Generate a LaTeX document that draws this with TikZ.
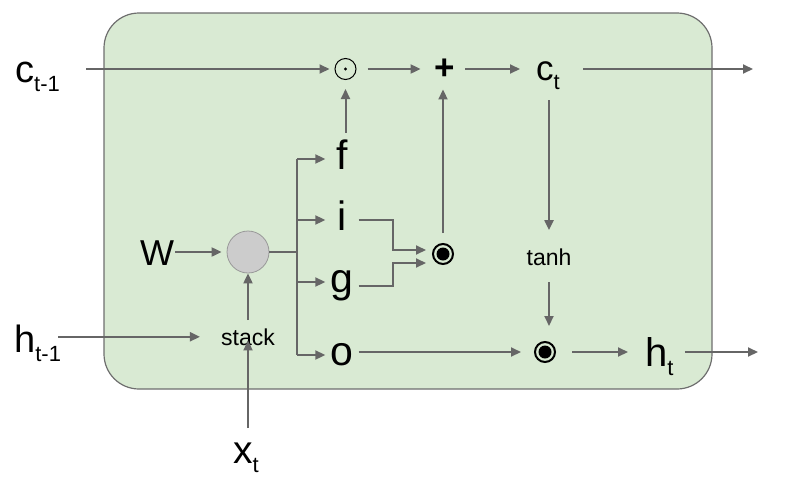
\documentclass[tikz,border=0pt]{standalone}
\usepackage{fontspec}
\setmainfont{Liberation Sans}
\usetikzlibrary{arrows.meta}

\definecolor{cellgreen}{HTML}{D9EAD3}
\definecolor{cellborder}{HTML}{6E6E6E}
\definecolor{wiregray}{HTML}{666666}
\definecolor{mixfill}{HTML}{CCCCCC}
\definecolor{mixborder}{HTML}{999999}

% letter with lowered subscript
\newcommand{\lowsub}[2]{#1\raisebox{-9pt}{\fontsize{22}{22}\selectfont #2}}

\begin{document}
\begin{tikzpicture}[x=1pt,y=-1pt,
	sym/.style={inner sep=0pt,anchor=base west},
	gate/.style={inner sep=0pt,minimum width=33pt,text height=30pt,text depth=10pt,font=\fontsize{41}{41}\selectfont},
	small/.style={inner sep=0pt,anchor=base,font=\fontsize{23}{23}\selectfont},
	wire/.style={draw=wiregray,line width=2pt},
	arr/.style={wire,-{Triangle[length=10pt,width=9pt]}},
	dotmul/.style={circle,draw,line width=1pt,inner sep=0pt,minimum size=21pt},
	hadamard/.style={circle,draw,line width=2pt,inner sep=0pt,minimum size=20pt}]
		\useasboundingbox (0,0) rectangle (800,485);
		\draw[cellborder,fill=cellgreen,line width=1.2pt,rounded corners=35pt] (104,13) rectangle (712,389);
		%%%
		\node[sym,font=\fontsize{38}{38}\selectfont] (ctm1) at (15,82) {\lowsub{c}{t-1}};
		\node[sym,font=\fontsize{35}{35}\selectfont] (ct) at (536,80) {\lowsub{c}{t}};
		\node[sym,font=\fontsize{38}{38}\selectfont] (htm1) at (14,352) {\lowsub{h}{t-1}};
		\node[sym,font=\fontsize{40}{40}\selectfont] (ht) at (645,366) {\lowsub{h}{t}};
		\node[sym,font=\fontsize{39}{39}\selectfont] (xt) at (233,463) {\lowsub{x}{t}};
		\node[sym,font=\fontsize{36}{36}\selectfont] (W) at (140,265) {W};
		%%%
		\node[dotmul] (fmul) at (345.5,69) {};
		\fill (fmul) circle (1.6pt);
		\node[inner sep=0pt,font=\fontsize{35}{35}\selectfont\bfseries] (sum) at (445,69) {+};
		\node[hadamard] (imul) at (443,254) {};
		\fill (imul) circle (6.5pt);
		\node[hadamard] (omul) at (545,352) {};
		\fill (omul) circle (6.5pt);
		\node[circle,draw=mixborder,fill=mixfill,line width=0.8pt,inner sep=0pt,minimum size=42pt] (mix) at (248,252) {};
		%%%
		\node[gate] (f) at (342,159) {f};
		\node[gate] (i) at (342,220) {i};
		\node[gate] (g) at (342,282) {g};
		\node[gate] (o) at (342,355) {o};
		\node[small] (stack) at (248,345) {stack};
		\node[small] (tanh) at (549,265) {tanh};
		\coordinate (split) at (297,252);
		\coordinate (cout) at (753,69);
		\coordinate (hout) at (758,352);
		%%%
		\draw[arr,shorten <=26pt,shorten >=5pt] (ctm1.east |- fmul) -- (fmul);
		\draw[arr,shorten <=11pt,shorten >=14pt] (fmul) -- (sum);
		\draw[arr,shorten <=10pt,shorten >=16pt] (sum) -- (ct.west |- sum);
		\draw[arr,shorten <=23pt] (ct.east |- sum) -- (cout);
		\draw[arr,shorten <=11pt,shorten >=18pt] (ct.south -| tanh) -- (tanh.north);
		\draw[arr,shorten <=17pt,shorten >=15pt] (tanh.south) -- (tanh.south |- omul.north);
		\draw[arr,shorten >=13pt] (o.east |- omul) -- (omul);
		\draw[arr,shorten <=16pt,shorten >=17pt] (omul) -- (omul -| ht.west);
		\draw[arr,shorten <=11pt] (ht.east |- omul) -- (hout);
		\draw[arr,shorten <=6pt,shorten >=9pt] (fmul |- f.north) -- (fmul);
		\draw[arr,shorten <=10pt,shorten >=10pt] (imul.north) -- (imul.north |- sum.south);
		\draw[arr] (i.east) -- ++(34,0) |- ([xshift=-6pt,yshift=4pt]imul.west);
		\draw[arr] ([yshift=-4pt]g.east) -- ++(34,0) |- ([xshift=-6pt,yshift=-9pt]imul.west);
		%%%
		\draw[arr,shorten <=1pt,shorten >=5pt] (W.east |- mix) -- (mix);
		\draw[wire] (mix) -- (split);
		\draw[wire] (split |- f.west) -- (split |- o.west);
		\foreach \gt in {f,i,g,o}
			\draw[arr] (split |- \gt.west) -- (\gt.west);
		\draw[arr,shorten <=8pt] (stack.north) -- (mix);
		\draw[arr,shorten <=-3pt,shorten >=21pt] (htm1.east |- stack.west) -- (stack.west);
		\draw[arr,shorten <=14pt,shorten >=-5pt] (stack |- xt.north) -- (stack.south);
	\end{tikzpicture}
\end{document}
